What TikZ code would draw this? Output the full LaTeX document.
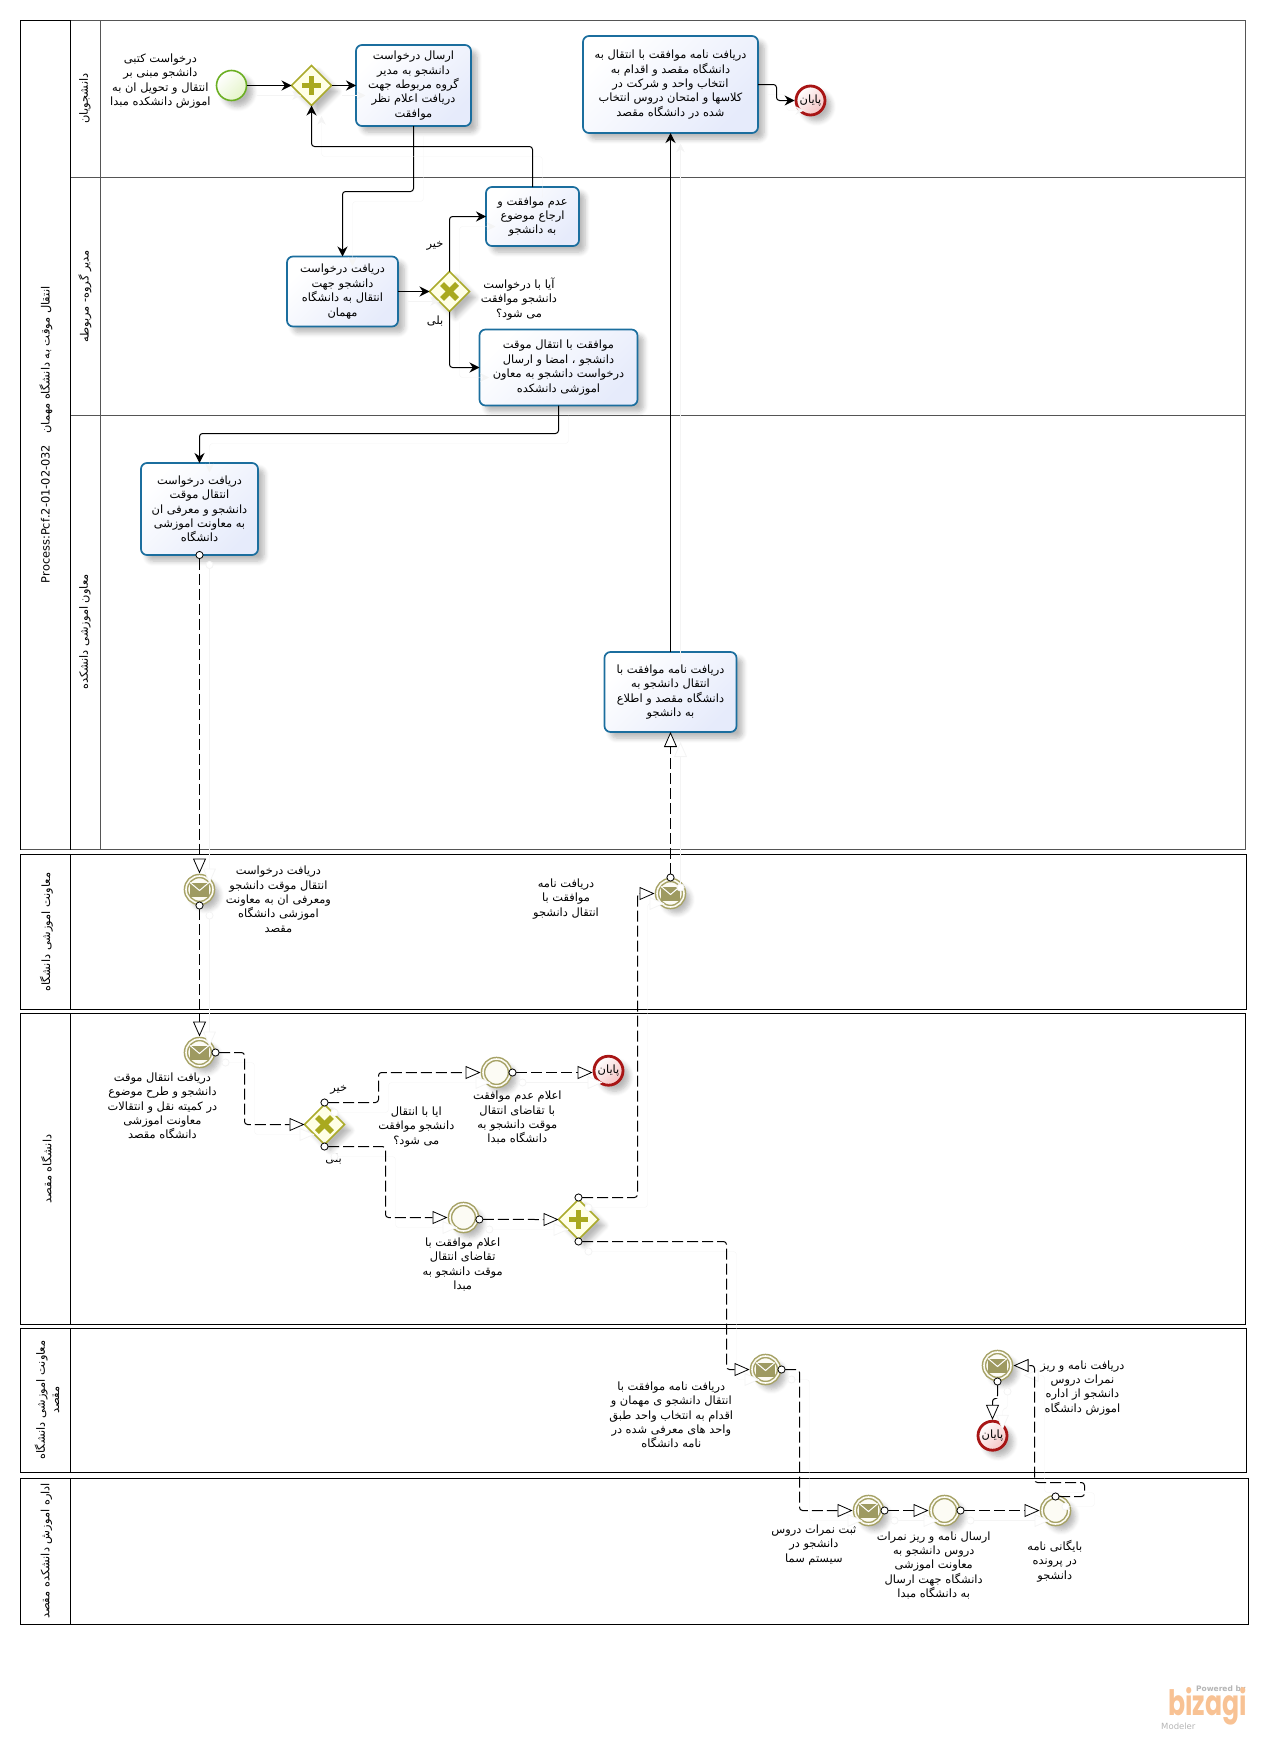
\documentclass[tikz,border=0pt]{standalone}
\usepackage{fontspec}
\usetikzlibrary{arrows.meta,shapes.geometric,shadows.blur}
\TeXXeTstate=1
\setmainfont{DejaVu Sans}
\newfontfamily\arabicfont[Script=Arabic]{DejaVu Sans}
\newfontfamily\logofont{Poppins}
\newcommand\rl[1]{\beginR #1\endR}
\definecolor{taskline}{HTML}{1B6E9E}
\definecolor{taskfill}{HTML}{E6EBFB}
\definecolor{evolive}{HTML}{A6A266}
\definecolor{evcream}{HTML}{FCFBF4}
\definecolor{gwline}{HTML}{ABAB2C}
\definecolor{gwfill}{HTML}{FFFFE6}
\definecolor{gwmark}{HTML}{A9A91F}
\definecolor{startline}{HTML}{6BAF22}
\definecolor{startfill}{HTML}{E4F4C8}
\definecolor{endline}{HTML}{A81515}
\definecolor{endfill}{HTML}{F5C4C4}
\definecolor{ghost}{HTML}{F4F4F4}
\definecolor{logoorange}{HTML}{F8C294}
\definecolor{logogray}{HTML}{B5B5B5}
\definecolor{lanegray}{HTML}{555555}
\tikzset{
  softshadow/.style={blur shadow={shadow xshift=6pt,shadow yshift=-6pt,shadow blur radius=5pt,shadow blur steps=6,shadow opacity=28}},
  pool/.style={draw=black,line width=1pt},
  lane/.style={draw=lanegray,line width=1pt},
  lbl/.style={align=center,inner sep=0pt,font=\arabicfont\fontsize{11.4}{14.4}\selectfont},
  vlbl/.style={lbl,rotate=90},
  task/.style={lbl,draw=taskline,line width=1.7pt,rounded corners=6pt,left color=white,right color=taskfill,shading angle=45,softshadow,outer sep=0pt},
  gate/.style={diamond,aspect=1,draw=gwline,line width=1.6pt,fill=gwfill,minimum width=40pt,minimum height=40pt,inner sep=0pt,outer sep=0pt,softshadow},
  startev/.style={circle,draw=startline,line width=1.6pt,left color=white,right color=startfill,shading angle=45,minimum size=30pt,inner sep=0pt,outer sep=0pt,softshadow},
  endev/.style={circle,lbl,draw=endline,line width=2.8pt,left color=white,right color=endfill,shading angle=45,minimum size=29pt,inner sep=0pt,outer sep=1.4pt,softshadow},
  ringev/.style={circle,draw=evolive,line width=1.5pt,double=evcream,double distance=1.6pt,fill=evcream,minimum size=27pt,inner sep=0pt,outer sep=2.5pt,softshadow},
  ghosted/.style={preaction={draw=ghost,solid,transform canvas={shift={(10pt,-10pt)}}}},
  flow/.style={ghosted,draw=black,line width=1pt,rounded corners=3pt,-{Stealth[length=10pt,width=10pt]}},
  msg/.style={ghosted,draw=black,line width=1pt,rounded corners=3pt,dash pattern=on 11pt off 4pt,shorten <=-4pt,{Circle[open,fill=white,length=8pt,width=8pt,line width=.8pt]}-{Triangle[open,fill=white,length=15pt,width=13pt,line width=.8pt]}},
}
\newcommand\gwplus[1]{\fill[gwmark] ([shift={(-9.5,-2.8)}]#1.center) rectangle ([shift={(9.5,2.8)}]#1.center);\fill[gwmark] ([shift={(-2.8,-9.5)}]#1.center) rectangle ([shift={(2.8,9.5)}]#1.center);}
\newcommand\gwcross[1]{\draw[gwmark,line width=5.5pt] ([shift={(-7.5,-7.5)}]#1.center) -- ([shift={(7.5,7.5)}]#1.center);\draw[gwmark,line width=5.5pt] ([shift={(-7.5,7.5)}]#1.center) -- ([shift={(7.5,-7.5)}]#1.center);}
\newcommand\envmark[1]{\fill[evolive!95!black] ([shift={(-9.5,-7)}]#1.center) rectangle ([shift={(9.5,7)}]#1.center);\draw[white,line width=1pt] ([shift={(-9.5,-7)}]#1.center) -- ([shift={(0,1)}]#1.center) -- ([shift={(9.5,-7)}]#1.center);}
\begin{document}
\begin{tikzpicture}[x=1pt,y=-1pt]
\useasboundingbox (0,0) rectangle (1268,1737);
% pools
\draw[lane] (70.5,177.5) -- (1245.5,177.5);
\draw[lane] (70.5,415.5) -- (1245.5,415.5);
\draw[lane] (100.5,20.5) -- (100.5,849.5);
\draw[lane] (70.5,20.5) -- (1245.5,20.5) -- (1245.5,849.5) -- (20.5,849.5);
\draw[pool] (20.5,849.5) -- (20.5,20.5) -- (70.5,20.5) -- (70.5,849.5);
\draw[pool] (20.5,854.5) rectangle (1246.5,1009.5);
\draw[pool] (70.5,854.5) -- (70.5,1009.5);
\draw[pool] (20.5,1013.5) rectangle (1245.5,1324.5);
\draw[pool] (70.5,1013.5) -- (70.5,1324.5);
\draw[pool] (20.5,1328.5) rectangle (1246.5,1472.5);
\draw[pool] (70.5,1328.5) -- (70.5,1472.5);
\draw[pool] (20.5,1478.5) rectangle (1248.5,1624.5);
\draw[pool] (70.5,1478.5) -- (70.5,1624.5);
% pool and lane titles
\node[vlbl] (p1) at (46,435) {Process:Pcf.2-01-02-032\quad\rl{انتقال موقت  به دانشگاه مهمان}};
\node[vlbl] (l1) at (85,98.5) {\rl{دانشجویان}};
\node[vlbl] (l2) at (85,296.5) {\rl{مدیر  گروه- مربوطه}};
\node[vlbl] (l3) at (85,632) {\rl{معاون اموزشی دانشکده}};
\node[vlbl] (p2) at (46.5,932.3) {\rl{معاونت اموزشی دانشگاه}};
\node[vlbl] (p3) at (46.5,1169) {\rl{دانشگاه مقصد}};
\node[vlbl] (p4) at (47,1400) {\rl{معاونت اموزشی دانشگاه}\\\rl{مقصد}};
\node[vlbl] (p5) at (46.5,1551) {\rl{اداره اموزش دانشکده مقصد}};
% pool 1 nodes
\node[startev] (start) at (231.5,85.5) {};
\node[gate] (gp) at (311.5,85.5) {};
\node[task,minimum width=115pt,minimum height=81pt] (t1) at (413.5,85.5) {\rl{ارسال درخواست}\\\rl{دانشجو به مدیر}\\\rl{گروه مربوطه جهت}\\\rl{دریافت اعلام نظر}\\\rl{موافقت}};
\node[task,minimum width=93pt,minimum height=59pt] (tno) at (532.5,216.5) {\rl{عدم موافقت و}\\\rl{ارجاع موضوع}\\\rl{به دانشجو}};
\node[task,minimum width=111pt,minimum height=70pt] (t2) at (342.5,291.5) {\rl{دریافت درخواست}\\\rl{دانشجو جهت}\\\rl{انتقال به دانشگاه}\\\rl{مهمان}};
\node[gate] (gx) at (449.5,291.5) {};
\node[task,minimum width=158pt,minimum height=76pt] (tyes) at (558.5,367.5) {\rl{موافقت با انتقال موقت}\\\rl{دانشجو ، امضا و ارسال}\\\rl{درخواست دانشجو به معاون}\\\rl{اموزشی دانشکده}};
\node[task,minimum width=175pt,minimum height=97pt] (ttr) at (670.5,84.5) {\rl{دریافت نامه موافقت با انتقال به}\\\rl{دانشگاه مقصد و اقدام به}\\\rl{انتخاب واحد و شرکت در}\\\rl{کلاسها و امتحان دروس انتخاب}\\\rl{شده در دانشگاه مقصد}};
\node[endev] (end1) at (810.5,100.5) {\rl{پایان}};
\node[task,minimum width=117pt,minimum height=92pt] (tfac) at (199.5,509) {\rl{دریافت درخواست}\\\rl{انتقال موقت}\\\rl{دانشجو و معرفی ان}\\\rl{به معاونت اموزشی}\\\rl{دانشگاه}};
\node[task,minimum width=132pt,minimum height=80pt] (tinf) at (670.5,692) {\rl{دریافت نامه موافقت با}\\\rl{انتقال دانشجو به}\\\rl{دانشگاه مقصد و اطلاع}\\\rl{به دانشجو}};
% pool 2 to 5 nodes
\node[ringev] (ev1) at (199.5,889.5) {};
\node[ringev] (ev2) at (670.5,893.5) {};
\node[ringev] (ev3) at (199.5,1052.5) {};
\node[gate] (gx2) at (324.5,1124.5) {};
\node[ringev] (ev4) at (496.5,1072.5) {};
\node[endev] (end2) at (608.5,1070.7) {\rl{پایان}};
\node[ringev] (ev5) at (463.5,1217.5) {};
\node[gate] (gp2) at (578.5,1219.5) {};
\node[ringev] (env1) at (765.5,1369.5) {};
\node[ringev] (env2) at (997.5,1365.5) {};
\node[endev] (end3) at (992.5,1435.7) {\rl{پایان}};
\node[ringev] (env3) at (868.5,1510.5) {};
\node[ringev] (ring1) at (944.5,1510.5) {};
\node[ringev] (ring2) at (1055.5,1510.5) {};
\envmark{ev1}\envmark{ev2}\envmark{ev3}\envmark{env1}\envmark{env2}\envmark{env3}
\gwplus{gp}\gwplus{gp2}\gwcross{gx}\gwcross{gx2}
% labels
\node[lbl] (n1) at (160.4,81) {\rl{درخواست کتبی}\\\rl{دانشجو مبنی بر}\\\rl{انتقال و تحویل ان به}\\\rl{اموزش دانشکده مبدا}};
\node[lbl] (n2) at (519,298.7) {\rl{آیا با درخواست}\\\rl{دانشجو موافقت}\\\rl{می شود؟}};
\node[lbl] (n3) at (435,246) {\rl{خیر}};
\node[lbl] (n4) at (435,321) {\rl{بلی}};
\node[lbl] (n5) at (278.4,899.3) {\rl{دریافت درخواست}\\\rl{انتقال موقت دانشجو}\\\rl{ومعرفی ان به معاونت}\\\rl{اموزشی دانشگاه}\\\rl{مقصد}};
\node[lbl] (n6) at (566,898.7) {\rl{دریافت نامه}\\\rl{موافقت با}\\\rl{انتقال دانشجو}};
\node[lbl] (n7) at (162.4,1106) {\rl{دریافت انتقال موقت}\\\rl{دانشجو و طرح موضوع}\\\rl{در کمیته نقل و انتقالات}\\\rl{معاونت اموزشی}\\\rl{دانشگاه مقصد}};
\node[lbl] (n8) at (338.8,1090) {\rl{خیر}};
\node[lbl] (n9) at (333.5,1159) {\rl{بلی}};
\node[lbl] (n10) at (416.3,1127) {\rl{ایا با انتقال}\\\rl{دانشجو موافقت}\\\rl{می شود؟}};
\node[lbl] (n11) at (517.3,1117.7) {\rl{اعلام عدم موافقت}\\\rl{با تقاضای انتقال}\\\rl{موقت دانشجو به}\\\rl{دانشگاه مبدا}};
\node[lbl] (n12) at (462.7,1264.3) {\rl{اعلام موافقت با}\\\rl{تقاضای انتقال}\\\rl{موقت دانشجو به}\\\rl{مبدا}};
\node[lbl] (n13) at (671.3,1415) {\rl{دریافت نامه موافقت با}\\\rl{انتقال دانشجو ی مهمان و}\\\rl{اقدام به انتخاب واحد طبق}\\\rl{واحد های معرفی شده در}\\\rl{نامه دانشگاه}};
\node[lbl] (n14) at (1082.4,1387.7) {\rl{دریافت نامه و ریز}\\\rl{نمرات دروس}\\\rl{دانشجو از اداره}\\\rl{اموزش دانشگاه}};
\node[lbl] (n15) at (813.9,1545) {\rl{ثبت نمرات دروس}\\\rl{دانشجو در}\\\rl{سیستم سما}};
\node[lbl] (n16) at (933.7,1565.3) {\rl{ارسال نامه و ریز نمرات}\\\rl{دروس دانشجو به}\\\rl{معاونت اموزشی}\\\rl{دانشگاه جهت ارسال}\\\rl{به دانشگاه مبدا}};
\node[lbl] (n17) at (1054.8,1561) {\rl{بایگانی نامه}\\\rl{در پرونده}\\\rl{دانشجو}};
% logo
\node[anchor=east,inner sep=0pt,text=logogray,font=\bfseries\fontsize{7.5}{9}\selectfont] (lg1) at (1246,1689) {Powered by};
\node[anchor=east,inner sep=0pt,text=logoorange,font=\logofont\bfseries\fontsize{35}{35}\selectfont] (lg2) at (1247,1706) {\scalebox{.72}[1]{bizagi}};
\node[anchor=west,inner sep=0pt,text=logogray,font=\fontsize{8.5}{10}\selectfont] (lg3) at (1161,1726) {Modeler};
% sequence flows
\draw[flow] (start) -- (gp);
\draw[flow] (gp) -- (t1);
\draw[flow] (t1.south) -- ++(0,65.5) -| (t2.north);
\draw[flow] (tno.north) -- ++(0,-40.5) -| (gp.south);
\draw[flow] (t2) -- (gx);
\draw[flow] (gx.north) |- (tno.west);
\draw[flow] (gx.south) |- (tyes.west);
\draw[flow] (tyes.south) -- ++(0,28) -| (tfac.north);
\draw[flow] (ttr.east) -- ++(18.5,0) |- (end1.west);
\draw[flow] (tinf.north) -- (ttr.south);
% message flows
\draw[msg] (tfac.south) -- (ev1.north);
\draw[msg] (ev1.south) -- (ev3.north);
\draw[msg] (ev3.east) -- ++(29,0) |- (gx2.west);
\draw[msg] ([yshift=2pt]gx2.north) -- ++(54,0) |- (ev4.west);
\draw[msg] (ev4.east) -- (ev4.east -| end2.west);
\draw[msg] ([yshift=-2pt]gx2.south) -- ++(61,0) |- (ev5.west);
\draw[msg] (ev5.-7) -- (gp2.west);
\draw[msg] ([yshift=2pt]gp2.north) -- ++(59,0) |- (ev2.west);
\draw[msg] ([yshift=-2pt]gp2.south) -- ++(148,0) |- (env1.west);
\draw[msg] (ev2.north) -- (tinf.south);
\draw[msg] (env1.east) -- ++(18,0) |- (env3.west);
\draw[msg] (env3.east) -- (ring1.west);
\draw[msg] (ring1.east) -- (ring2.west);
\draw[msg] ([yshift=-2pt]ring2.north) -- ++(29,0) -- ++(0,-14) -- ++(-50,0) |- (env2.east);
\draw[msg] (env2.south) -- ++(0,17) -| (end3.north);
\end{tikzpicture}
\end{document}
